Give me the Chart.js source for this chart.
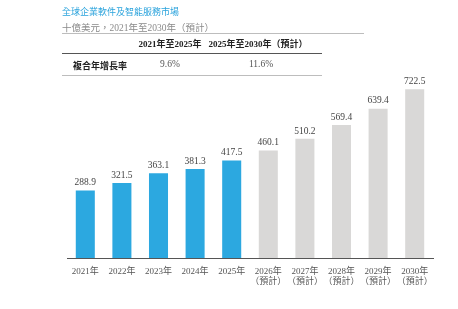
<!DOCTYPE html>
<html>
<head>
<meta charset="utf-8">
<script src="https://cdn.jsdelivr.net/npm/chart.js@4/dist/chart.umd.min.js"></script>
<style>
  html, body { margin:0; padding:0; background:#fff; }
  #wrap { position:relative; width:458px; height:309px; overflow:hidden; }
  canvas { position:absolute; left:0; top:0; }
  .t { position:absolute; white-space:nowrap; }
  #title { left:62px; top:5px; font:9px "Noto Sans CJK TC", sans-serif; color:#2aa3dc; }
  #sub { left:62px; top:20px; font:9.5px "Liberation Serif", "Noto Sans CJK TC", serif; color:#8a8a8a; }
  .line { position:absolute; height:0; }
  .hd { font:bold 9px "Liberation Serif", "Noto Sans CJK TC", serif; color:#222; transform:translateX(-50%); }
  .cell { font:9.5px "Liberation Serif", "Noto Sans CJK TC", serif; color:#555; transform:translateX(-50%); }
</style>
</head>
<body>
<div id="wrap">
  <canvas id="c" width="458" height="309"></canvas>
  <div id="title" class="t">全球企業軟件及智能服務市場</div>
  <div id="sub" class="t">十億美元，2021年至2030年（預計）</div>
  <div class="line" style="left:62px;top:33px;width:302px;border-top:1px solid #bdbdbd;"></div>
  <div class="t hd" style="left:170px;top:37px;">2021年至2025年</div>
  <div class="t hd" style="left:258px;top:37px;">2025年至2030年（預計）</div>
  <div class="line" style="left:62px;top:53px;width:260px;border-top:1px solid #555;"></div>
  <div class="t" style="left:73px;top:59px;font:bold 9px 'Noto Sans CJK TC',sans-serif;color:#222;">複合年增長率</div>
  <div class="t cell" style="left:170px;top:59px;">9.6%</div>
  <div class="t cell" style="left:261px;top:59px;">11.6%</div>
  <div class="line" style="left:62px;top:75px;width:260px;border-top:1px solid #bdbdbd;"></div>
</div>
<script>
const categories = [["2021年"],["2022年"],["2023年"],["2024年"],["2025年"],
  ["2026年","（預計）"],["2027年","（預計）"],["2028年","（預計）"],["2029年","（預計）"],["2030年","（預計）"]];
const marketValues = [288.9, 321.5, 363.1, 381.3, 417.5, 460.1, 510.2, 569.4, 639.4, 722.5];
const valueLabels = ["288.9","321.5","363.1","381.3","417.5","460.1","510.2","569.4","639.4","722.5"];
const isForecast = [false,false,false,false,false,true,true,true,true,true];

const blue = '#2ca8e0', grey = '#d9d8d7';
const serif = '"Liberation Serif", "Noto Sans CJK TC", serif';

const valuePlugin = {
  id:'vals',
  afterDatasetsDraw(chart){
    const ctx = chart.ctx;
    const meta = chart.getDatasetMeta(0);
    ctx.save();
    ctx.font = '9.5px ' + serif;
    ctx.fillStyle = '#444';
    ctx.textAlign = 'center';
    ctx.textBaseline = 'bottom';
    meta.data.forEach((el, i) => {
      ctx.fillText(valueLabels[i], el.x, el.y - 3);
    });
    ctx.restore();
  }
};

new Chart(document.getElementById('c'), {
  type:'bar',
  data:{
    labels: categories,
    datasets:[{
      data: marketValues,
      backgroundColor: isForecast.map(f => f ? grey : blue),
      borderWidth:0,
      categoryPercentage:1,
      barPercentage:0.52
    }]
  },
  options:{
    responsive:false,
    animation:false,
    layout:{ padding:{ left:67, right:25, top:80, bottom:11 } },
    plugins:{ legend:{display:false}, tooltip:{enabled:false} },
    scales:{
      x:{
        clip:false,
        grid:{ display:false },
        border:{ display:true, color:'#555', width:1 },
        ticks:{ color:'#555', font:{ family: serif, size:9, lineHeight:1.15 }, padding:0, maxRotation:0, autoSkip:false },
        afterFit(s){ s.height = 40; }
      },
      y:{ display:false, min:0, max:762 }
    }
  },
  plugins:[valuePlugin]
});
</script>
</body>
</html>
